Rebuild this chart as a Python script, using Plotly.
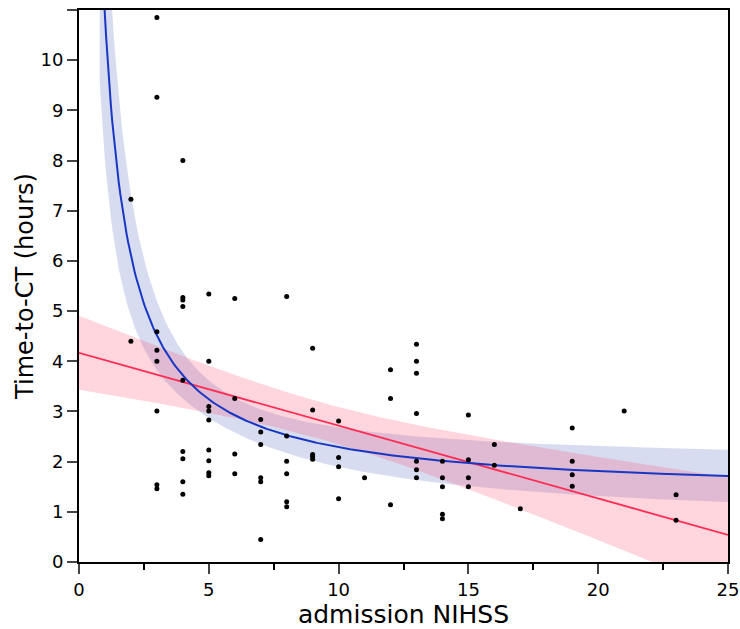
import numpy as np
import plotly.graph_objects as go

# admission NIHSS (x) and time-to-CT in hours (y)
nihss = [2, 2,
         3, 3, 3, 3, 3, 3, 3, 3,
         4, 4, 4, 4, 4, 4, 4, 4, 4,
         5, 5, 5, 5, 5, 5, 5, 5, 5,
         6, 6, 6, 6,
         7, 7, 7, 7, 7, 7,
         8, 8, 8, 8, 8, 8,
         9, 9, 9, 9, 9,
         10, 10, 10, 10,
         11,
         12, 12, 12,
         13, 13, 13, 13, 13, 13, 13,
         14, 14, 14, 14, 14,
         15, 15, 15, 15,
         16, 16,
         17,
         19, 19, 19, 19,
         21,
         23, 23]
hours = [7.23, 4.40,
         10.85, 9.26, 4.59, 4.22, 4.00, 3.01, 1.54, 1.46,
         8.00, 5.27, 5.22, 5.09, 3.62, 2.20, 2.06, 1.60, 1.35,
         5.34, 4.00, 3.10, 3.01, 2.83, 2.23, 2.02, 1.78, 1.72,
         5.25, 3.26, 2.15, 1.76,
         2.84, 2.59, 2.34, 1.68, 1.60, 0.45,
         5.29, 2.51, 2.01, 1.76, 1.20, 1.10,
         4.26, 3.03, 2.14, 2.10, 2.05,
         2.81, 2.08, 1.90, 1.26,
         1.68,
         3.83, 3.26, 1.14,
         4.34, 4.00, 3.76, 2.96, 2.01, 1.84, 1.68,
         2.01, 1.68, 1.50, 0.95, 0.86,
         2.93, 2.04, 1.68, 1.50,
         2.34, 1.93,
         1.06,
         2.67, 2.01, 1.74, 1.51,
         3.01,
         1.34, 0.83]

x_ticks = [0, 5, 10, 15, 20, 25]
y_ticks = list(range(0, 12))

X = np.array(nihss, float)
Y = np.array(hours, float)
t95 = 1.99


def linfit_ci(u, y, ugrid):
    b, a = np.polyfit(u, y, 1)
    res = y - (a + b * u)
    s = np.sqrt(np.sum(res ** 2) / (len(u) - 2))
    um = u.mean()
    suu = np.sum((u - um) ** 2)
    fit = a + b * ugrid
    hw = t95 * s * np.sqrt(1.0 / len(u) + (ugrid - um) ** 2 / suu)
    return fit, fit - hw, fit + hw


# linear model
xg_lin = np.linspace(0, 25, 200)
lin_fit, lin_lo, lin_hi = linfit_ci(X, Y, xg_lin)

# inverse model y = a + b / x
xg_inv = np.linspace(0.8, 25, 400)
inv_fit, inv_lo, inv_hi = linfit_ci(1.0 / X, Y, 1.0 / xg_inv)

blue = "rgb(25,55,195)"
blue_band = "rgba(40,70,175,0.19)"
red = "rgb(255,45,85)"
red_band = "rgba(255,70,105,0.22)"

fig = go.Figure()
fig.add_trace(go.Scatter(x=xg_inv, y=inv_lo, mode="lines", line=dict(width=0),
                         hoverinfo="skip", showlegend=False))
fig.add_trace(go.Scatter(x=xg_inv, y=inv_hi, mode="lines", line=dict(width=0),
                         fill="tonexty", fillcolor=blue_band,
                         hoverinfo="skip", showlegend=False))
fig.add_trace(go.Scatter(x=xg_lin, y=lin_lo, mode="lines", line=dict(width=0),
                         hoverinfo="skip", showlegend=False))
fig.add_trace(go.Scatter(x=xg_lin, y=lin_hi, mode="lines", line=dict(width=0),
                         fill="tonexty", fillcolor=red_band,
                         hoverinfo="skip", showlegend=False))
fig.add_trace(go.Scatter(x=xg_lin, y=lin_fit, mode="lines",
                         line=dict(color=red, width=1.8), showlegend=False))
fig.add_trace(go.Scatter(x=xg_inv, y=inv_fit, mode="lines",
                         line=dict(color=blue, width=2), showlegend=False))
fig.add_trace(go.Scatter(x=nihss, y=hours, mode="markers",
                         marker=dict(color="black", size=5), showlegend=False))

font = "DejaVu Sans, sans-serif"
fig.update_layout(
    width=740, height=629,
    margin=dict(l=79, r=12, t=10, b=67),
    plot_bgcolor="white", paper_bgcolor="white",
    font=dict(family=font, color="black"),
    showlegend=False,
)
fig.update_xaxes(range=[0, 25], tickvals=x_ticks, ticks="outside", ticklen=10,
                 tickwidth=1.5, showline=True, linecolor="black", linewidth=2,
                 mirror=True, showgrid=False, zeroline=False, automargin=False,
                 tickfont=dict(size=18),
                 minor=dict(tickvals=[2.5, 7.5, 12.5, 17.5, 22.5], ticks="outside",
                            ticklen=6, tickwidth=1.5, tickcolor="black"),
                 title=dict(text="admission NIHSS", font=dict(size=25), standoff=0))
fig.update_yaxes(range=[0, 11], tickvals=y_ticks, ticks="outside", ticklen=10,
                 tickwidth=1.5, showline=True, linecolor="black", linewidth=2,
                 mirror=True, showgrid=False, zeroline=False, automargin=False,
                 tickfont=dict(size=18),
                 title=dict(text="Time-to-CT (hours)", font=dict(size=24), standoff=0))

fig.write_html("out.html", config={"displayModeBar": False},
               post_script="document.body.style.margin='0';")
